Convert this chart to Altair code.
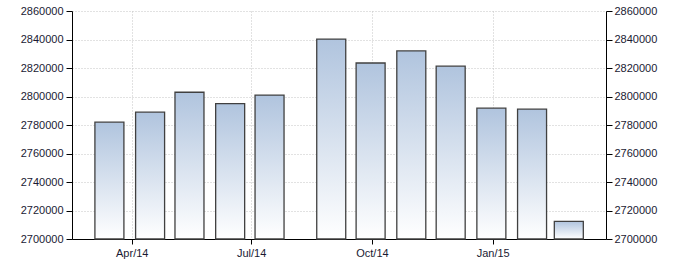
import altair as alt
import pandas as pd

dates = ["2014-03-15", "2014-04-15", "2014-05-15", "2014-06-15", "2014-07-15",
         "2014-08-31", "2014-09-30", "2014-10-31", "2014-11-30", "2014-12-31",
         "2015-01-31", "2015-02-28"]
values = [2782000, 2789000, 2803000, 2795000, 2801000, 2840300,
          2823500, 2832000, 2821300, 2791800, 2791100, 2712400]
y_ticks = [2700000, 2720000, 2740000, 2760000, 2780000, 2800000,
           2820000, 2840000, 2860000]
x_ticks = [(2014, 4), (2014, 7), (2014, 10), (2015, 1)]
BASE = 2700000

df = pd.DataFrame({"date": dates, "value": values})

FONT = "Liberation Sans"
x_vals = [alt.DateTime(year=y, month=m, date=1, utc=True) for y, m in x_ticks]

x_scale = alt.Scale(type="utc", padding=0,
                    domain=[alt.DateTime(year=2014, month=2, date=14, hours=12, utc=True),
                            alt.DateTime(year=2015, month=3, date=28, hours=8, utc=True)])

x_enc = alt.X(
    "date:T",
    scale=x_scale,
    axis=alt.Axis(values=x_vals, labelExpr="utcFormat(datum.value, '%b/%y')",
                  title=None, grid=True, gridColor="#c4c4c4", gridDash=[1, 2],
                  domainColor="#000000", tickColor="#000000", tickSize=5,
                  labelFont=FONT, labelFontSize=11, labelColor="#1a1a33",
                  labelPadding=3),
)

y_scale = alt.Scale(domain=[2700000, 2860000], nice=False, zero=False)

gradient = alt.Gradient(
    gradient="linear",
    stops=[alt.GradientStop(color="#b0c4de", offset=0),
           alt.GradientStop(color="#ffffff", offset=1)],
    x1=0, x2=0, y1=0, y2=1,
)

bars = alt.Chart(df).mark_bar(
    width=29, stroke="#404040", strokeWidth=1.3
).encode(
    x=x_enc,
    y=alt.Y("value:Q", scale=y_scale,
            axis=alt.Axis(values=y_ticks, format="d", title=None, orient="left",
                          grid=True, gridColor="#c4c4c4", gridDash=[1, 2],
                          domainColor="#000000", tickColor="#000000", tickSize=6,
                          labelFont=FONT, labelFontSize=11, labelColor="#1a1a33",
                          labelPadding=3)),
    y2=alt.datum(BASE),
    fill=alt.value(gradient),
)

right = alt.Chart(df).mark_point(opacity=0).encode(
    x=alt.X("date:T", scale=x_scale),
    y=alt.Y("value:Q", scale=y_scale,
            axis=alt.Axis(values=y_ticks, format="d", title=None, orient="right",
                          grid=False, domainColor="#000000", tickColor="#000000",
                          tickSize=6, labelFont=FONT, labelFontSize=11,
                          labelColor="#1a1a33", labelPadding=2)),
)

chart = alt.layer(bars, right).resolve_axis(y="independent").properties(
    width=534, height=228,
    autosize=alt.AutoSizeParams(type="none"),
    padding={"left": 72, "top": 11, "right": 88, "bottom": 29},
).configure_view(stroke=None)

chart.save("out.html", embed_options={"renderer": "svg", "actions": False})
